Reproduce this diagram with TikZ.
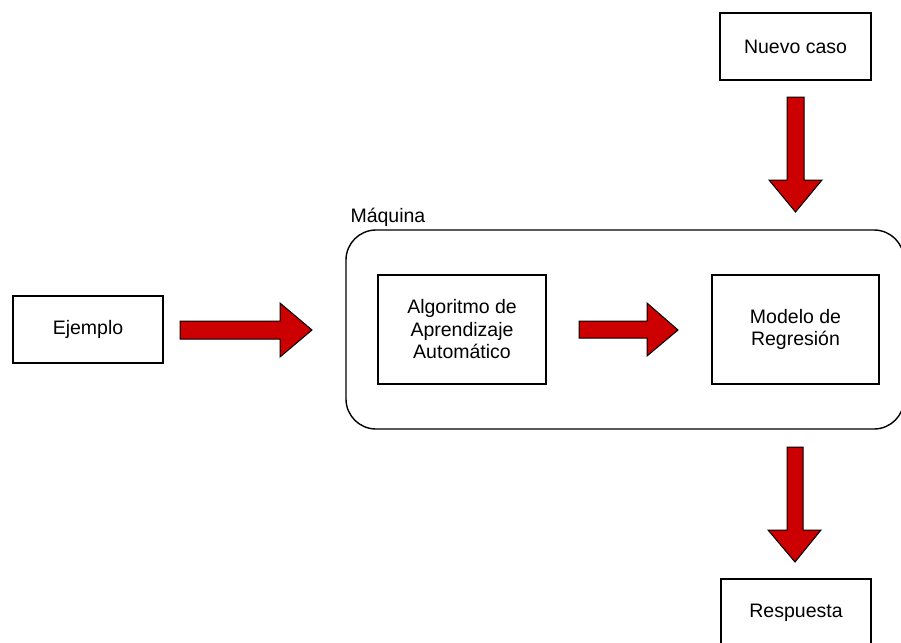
\documentclass[tikz,border=0pt]{standalone}
\usepackage{fontspec}
\setmainfont{Liberation Sans}
\tikzset{
  caja/.style={draw,line width=1.4pt,align=center,inner sep=0pt,
    font=\fontsize{19.5}{22.5}\selectfont},
  flecha/.style={draw,line width=1pt,fill=rojo,line join=miter}
}
\definecolor{rojo}{HTML}{CC0000}
\begin{document}
\begin{tikzpicture}[x=1pt,y=-1pt]
\useasboundingbox (0,0) rectangle (901,642);
\clip (0,0) rectangle (901,642);

% maquina
\draw[line width=1.4pt,rounded corners=30pt] (346,230) rectangle (904,429);
\node[anchor=base west,font=\fontsize{19.5}{22.5}\selectfont] (maquina) at (347,222) {Máquina};

% cajas
\node[caja,minimum width=151pt,minimum height=67pt] (nuevo) at (795.5,46.5) {Nuevo caso};
\node[caja,minimum width=150pt,minimum height=67pt] (ejemplo) at (88,329.5) {Ejemplo};
\node[caja,minimum width=168pt,minimum height=109pt] (algoritmo) at (462,329.5) {Algoritmo de\\Aprendizaje\\Automático};
\node[caja,minimum width=167pt,minimum height=109pt] (modelo) at (795.5,329.5) {Modelo de\\Regresión};
\node[caja,minimum width=150pt,minimum height=67pt] (respuesta) at (796,612.5) {Respuesta};

% flechas
\path[flecha] (180,321) -- (280,321) -- (280,303) -- (312,330) -- (280,357) -- (280,339) -- (180,339) -- cycle;
\path[flecha] (579,321) -- (647,321) -- (647,303) -- (678,330) -- (647,356) -- (647,338) -- (579,338) -- cycle;
\path[flecha] (787,97) -- (804,97) -- (804,180) -- (822,180) -- (795.5,212) -- (769,180) -- (787,180) -- cycle;
\path[flecha] (787,447) -- (803,447) -- (803,530) -- (821,530) -- (795,562) -- (768,530) -- (787,530) -- cycle;
\end{tikzpicture}
\end{document}
